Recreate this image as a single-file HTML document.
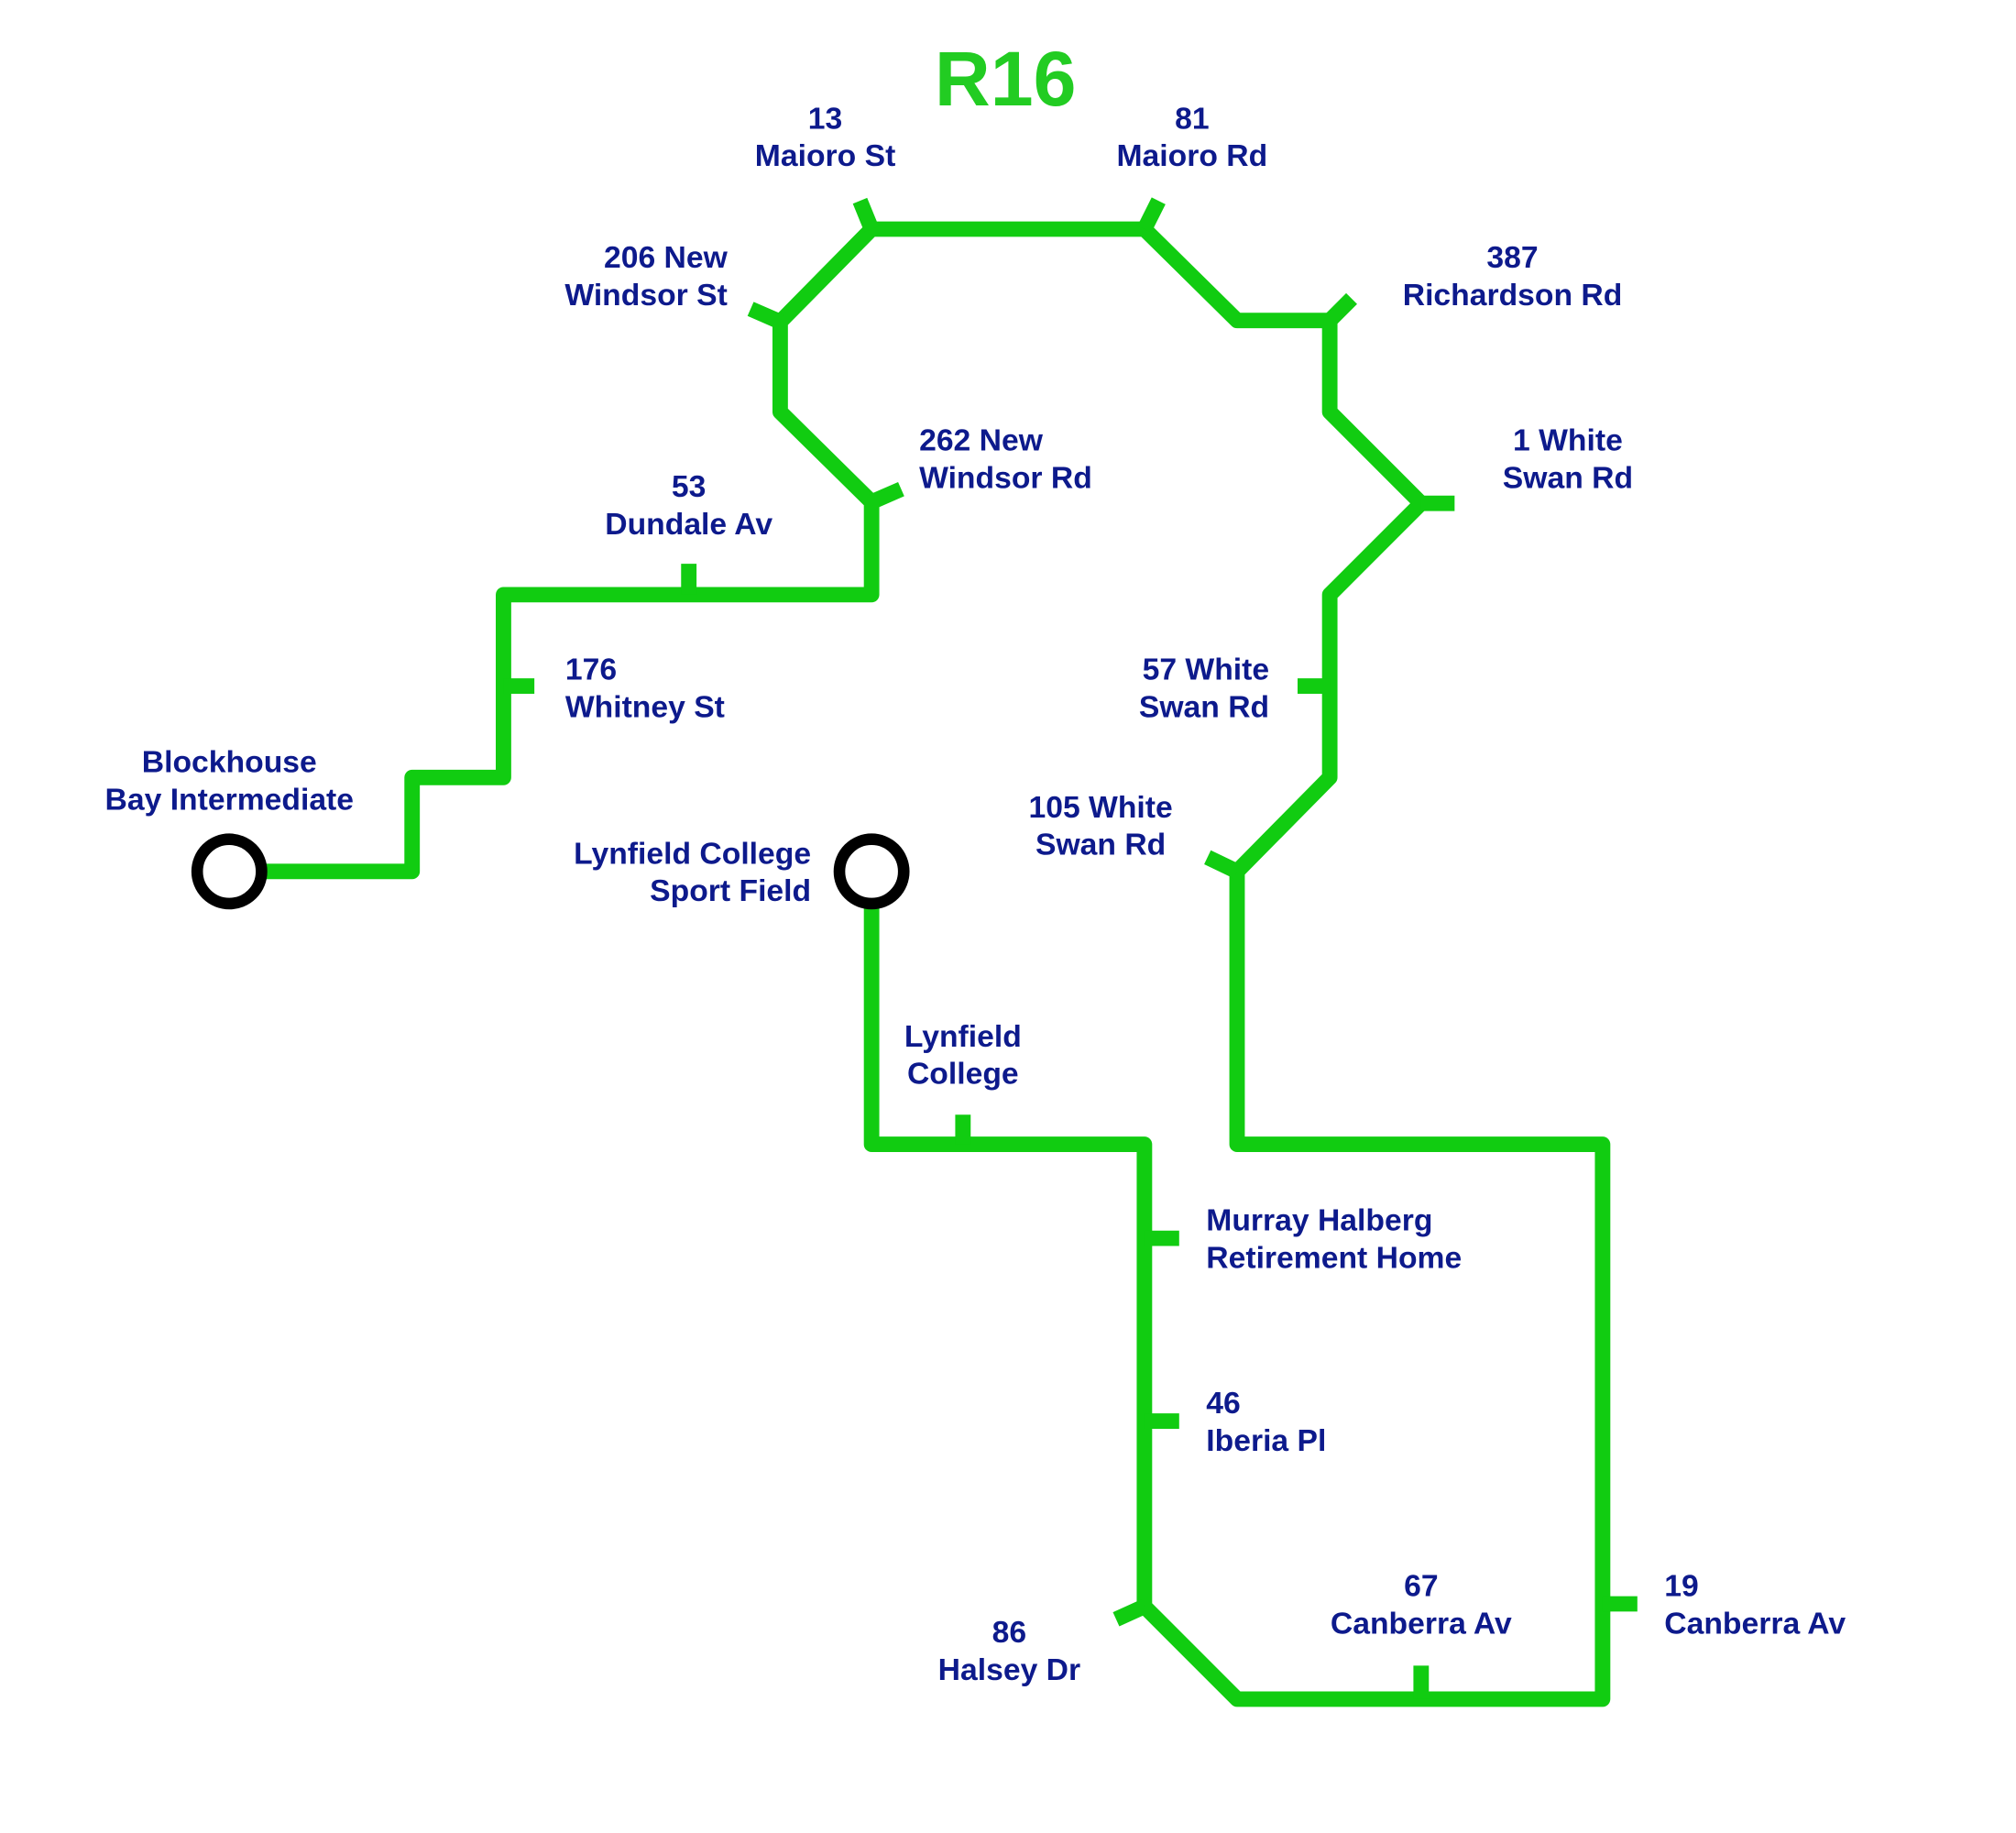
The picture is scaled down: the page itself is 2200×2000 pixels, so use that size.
<!DOCTYPE html>
<html><head><meta charset="utf-8"><style>
html,body{margin:0;padding:0;background:#fff;}
svg{display:block}
text{font-family:"Liberation Sans",sans-serif;font-weight:bold;fill:#0d1a8c;font-size:24px}
</style></head><body>
<svg width="2200" height="2000" viewBox="0 0 1566 1424" xmlns="http://www.w3.org/2000/svg">
<text x="781" y="82" text-anchor="middle" style="font-size:60px;fill:#22cc22">R16</text>
<g fill="none" stroke="#11cc11" stroke-width="12" stroke-linejoin="round" stroke-linecap="butt">
<polyline points="178,677 320,677 320,604 391,604 391,462 677,462 677,390 606,320 606,250 677,178 889,178 961,249 1033,249 1033,320 1104,391 1033,462 1033,604 961,677 961,889 1245,889 1245,1320 961,1320 889,1248 889,889 677,889 677,677"/>
<line x1="677" y1="178" x2="668" y2="156"/>
<line x1="889" y1="178" x2="900" y2="156"/>
<line x1="606" y1="250" x2="583" y2="240"/>
<line x1="1033" y1="249" x2="1050" y2="232"/>
<line x1="677" y1="390" x2="700" y2="380"/>
<line x1="535" y1="462" x2="535" y2="438"/>
<line x1="391" y1="533" x2="415" y2="533"/>
<line x1="1104" y1="391" x2="1130" y2="391"/>
<line x1="1033" y1="533" x2="1008" y2="533"/>
<line x1="961" y1="677" x2="938" y2="666"/>
<line x1="748" y1="889" x2="748" y2="866"/>
<line x1="889" y1="962" x2="916" y2="962"/>
<line x1="889" y1="1104" x2="916" y2="1104"/>
<line x1="889" y1="1248" x2="867" y2="1258"/>
<line x1="1104" y1="1320" x2="1104" y2="1294"/>
<line x1="1245" y1="1246" x2="1272" y2="1246"/>
</g>
<circle cx="178" cy="677" r="25" fill="#fff" stroke="#000" stroke-width="9"/>
<circle cx="677" cy="677" r="25" fill="#fff" stroke="#000" stroke-width="9"/>
<text x="641" y="100" text-anchor="middle">13</text><text x="641" y="129" text-anchor="middle">Maioro St</text>
<text x="926" y="100" text-anchor="middle">81</text><text x="926" y="129" text-anchor="middle">Maioro Rd</text>
<text x="565" y="208" text-anchor="end">206 New</text><text x="565" y="237" text-anchor="end">Windsor St</text>
<text x="1175" y="208" text-anchor="middle">387</text><text x="1175" y="237" text-anchor="middle">Richardson Rd</text>
<text x="714" y="350">262 New</text><text x="714" y="379">Windsor Rd</text>
<text x="535" y="386" text-anchor="middle">53</text><text x="535" y="415" text-anchor="middle">Dundale Av</text>
<text x="1218" y="350" text-anchor="middle">1 White</text><text x="1218" y="379" text-anchor="middle">Swan Rd</text>
<text x="439" y="528">176</text><text x="439" y="557">Whitney St</text>
<text x="986" y="528" text-anchor="end">57 White</text><text x="986" y="557" text-anchor="end">Swan Rd</text>
<text x="178" y="600" text-anchor="middle">Blockhouse</text><text x="178" y="629" text-anchor="middle">Bay Intermediate</text>
<text x="855" y="635" text-anchor="middle">105 White</text><text x="855" y="664" text-anchor="middle">Swan Rd</text>
<text x="630" y="671" text-anchor="end">Lynfield College</text><text x="630" y="700" text-anchor="end">Sport Field</text>
<text x="748" y="813" text-anchor="middle">Lynfield</text><text x="748" y="842" text-anchor="middle">College</text>
<text x="937" y="956">Murray Halberg</text><text x="937" y="985">Retirement Home</text>
<text x="937" y="1098">46</text><text x="937" y="1127">Iberia Pl</text>
<text x="1104" y="1240" text-anchor="middle">67</text><text x="1104" y="1269" text-anchor="middle">Canberra Av</text>
<text x="1293" y="1240">19</text><text x="1293" y="1269">Canberra Av</text>
<text x="784" y="1276" text-anchor="middle">86</text><text x="784" y="1305" text-anchor="middle">Halsey Dr</text>
</svg>
</body></html>
